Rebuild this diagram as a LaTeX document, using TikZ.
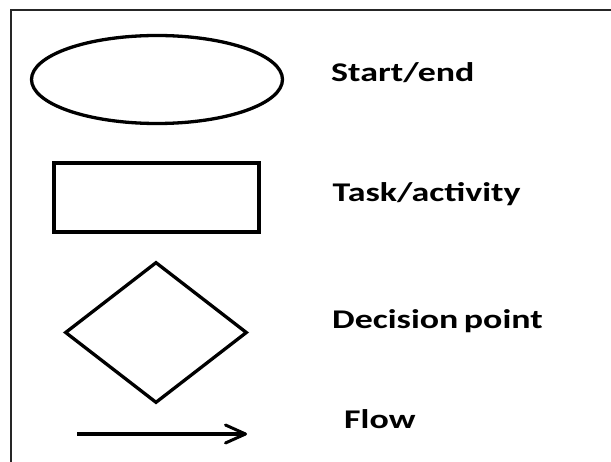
\documentclass[tikz,border=0pt]{standalone}
\usepackage{fontspec}
\setmainfont{Carlito}
\usetikzlibrary{shapes.geometric,arrows.meta}
\newcommand{\legendlabel}[1]{\scalebox{1.33}[1]{#1}}
\begin{document}
\begin{tikzpicture}[x=1pt,y=-1pt,
  symbol/.style={draw=black,line width=3.3pt,inner sep=0pt},
  legendtext/.style={anchor=base west,inner sep=0pt,font=\fontsize{27}{31}\selectfont\bfseries}]
\useasboundingbox (0,0) rectangle (611,462);
% frame
\coordinate (fbl) at (11,462);
\coordinate (ftl) at (11,10);
\coordinate (ftr) at (611,10);
\draw[line width=1.6pt,black!85] (fbl) -- (ftl) -- (ftr);
% start/end
\node[symbol,ellipse,minimum width=251,minimum height=88] (startend) at (157,79.5) {};
\node[legendtext] (lstart) at (331,82) {\legendlabel{Start/end}};
% task
\node[symbol,rectangle,minimum width=205,minimum height=69] (task) at (156.5,197.5) {};
\node[legendtext] (ltask) at (332.5,201.5) {\legendlabel{Task/activity}};
% decision
\node[symbol,diamond,minimum width=182,minimum height=141] (decision) at (156,332.5) {};
\node[legendtext] (ldecision) at (332,329) {\legendlabel{Decision\hspace{-2pt} point}};
% flow
\coordinate (fa) at (77,434);
\coordinate (fb) at (247,434);
\draw[line width=3.3pt,-{Straight Barb[length=20pt,width=18pt,line width=3pt,round]}] (fa) -- (fb);
\node[legendtext] (lflow) at (344,429) {\legendlabel{Flow}};
\end{tikzpicture}
\end{document}
